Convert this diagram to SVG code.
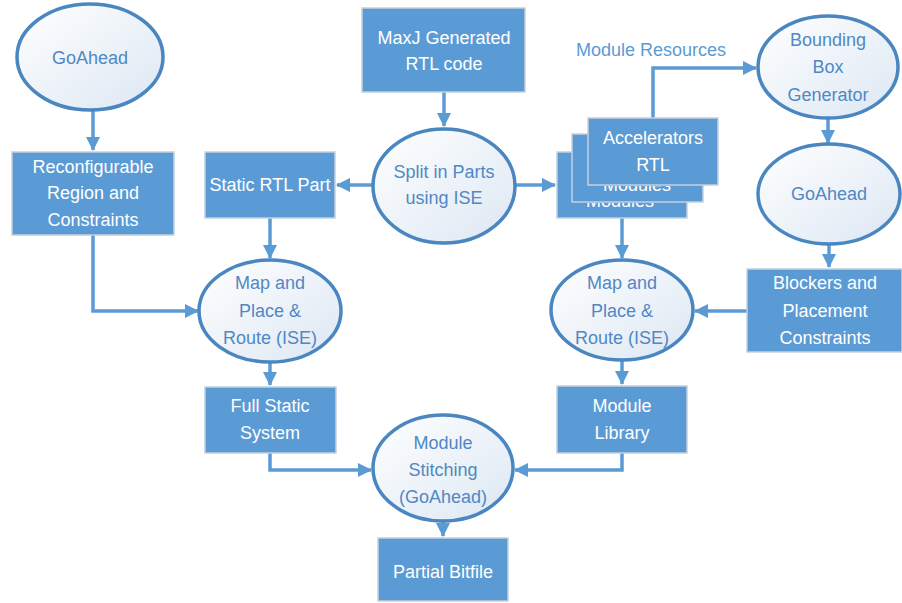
<svg xmlns="http://www.w3.org/2000/svg" width="902" height="603" viewBox="0 0 902 603">
<style>
.box{fill:#5b9bd5;stroke:#c5d0dc;stroke-width:1.5}
.ell{fill:url(#eg);stroke:#4a86c0;stroke-width:3.5}
.bt{font-family:"Liberation Sans",Arial,sans-serif;font-size:18px;fill:#ffffff;text-anchor:middle}
.et{font-family:"Liberation Sans",Arial,sans-serif;font-size:18px;fill:#5088c4;text-anchor:middle}
.lbl{font-family:"Liberation Sans",Arial,sans-serif;font-size:18px;fill:#5b9bd5;text-anchor:middle}
.con{fill:none;stroke:#5b9bd5;stroke-width:3.5;marker-end:url(#ah)}
</style>
<defs>
<linearGradient id="eg" x1="0" y1="0" x2="1" y2="1">
<stop offset="0" stop-color="#ffffff"/>
<stop offset="1" stop-color="#dce7f3"/>
</linearGradient>
<marker id="ah" markerUnits="userSpaceOnUse" markerWidth="14" markerHeight="14" viewBox="0 0 14 14" refX="13" refY="7" orient="auto">
<path d="M0,0 L14,7 L0,14 Z" fill="#5b9bd5"/>
</marker>
<clipPath id="cm"><rect x="572" y="186" width="131" height="16"/></clipPath>
<clipPath id="cb"><rect x="557" y="203" width="130" height="15"/></clipPath>
</defs>
<g id="connectors">
<path class="con" d="M93,110 V150"/>
<path class="con" d="M444,92 V126"/>
<path class="con" d="M373,185 H337"/>
<path class="con" d="M515,185 H555"/>
<path class="con" d="M653,118 V68 H756"/>
<path class="con" d="M828,118 V143"/>
<path class="con" d="M829,244 V267"/>
<path class="con" d="M747,311 H695"/>
<path class="con" d="M622,218 V258"/>
<path class="con" d="M270,218 V258"/>
<path class="con" d="M93,235 V311 H198"/>
<path class="con" d="M270,362 V385"/>
<path class="con" d="M622,360 V384"/>
<path class="con" d="M270,453 V470 H371"/>
<path class="con" d="M622,453 V470 H515"/>
<path class="con" d="M443,521 V536"/>
</g>
<g id="goahead1"><ellipse class="ell" cx="90" cy="57" rx="73" ry="53"/><text class="et" x="90" y="64">GoAhead</text></g>
<g id="reconfig"><rect class="box" x="12" y="152" width="162" height="83"/><text class="bt" x="93" y="173">Reconfigurable</text><text class="bt" x="93" y="199">Region and</text><text class="bt" x="93" y="226">Constraints</text></g>
<g id="maxj"><rect class="box" x="362" y="8" width="163" height="84"/><text class="bt" x="444" y="44">MaxJ Generated</text><text class="bt" x="444" y="70">RTL code</text></g>
<g id="split"><ellipse class="ell" cx="444" cy="186" rx="71" ry="57"/><text class="et" x="444" y="178">Split in Parts</text><text class="et" x="444" y="204">using ISE</text></g>
<g id="static"><rect class="box" x="205" y="152" width="130" height="66"/><text class="bt" x="270" y="191">Static RTL Part</text></g>
<g id="modules">
<rect class="box" x="557" y="152" width="130" height="66"/><text class="bt" x="620" y="207" clip-path="url(#cb)">Modules</text>
<rect class="box" x="572" y="134" width="131" height="68"/><text class="bt" x="637" y="191" clip-path="url(#cm)">Modules</text>
<rect class="box" x="588" y="118" width="130" height="67"/><text class="bt" x="653" y="144">Accelerators</text><text class="bt" x="653" y="171">RTL</text>
</g>
<text class="lbl" x="651" y="56">Module Resources</text>
<g id="bbox"><ellipse class="ell" cx="828" cy="67" rx="70" ry="51"/><text class="et" x="828" y="46">Bounding</text><text class="et" x="828" y="73">Box</text><text class="et" x="828" y="101">Generator</text></g>
<g id="goahead2"><ellipse class="ell" cx="829" cy="194" rx="71" ry="50"/><text class="et" x="829" y="200">GoAhead</text></g>
<g id="blockers"><rect class="box" x="747" y="269" width="155" height="83"/><text class="bt" x="825" y="289">Blockers and</text><text class="bt" x="825" y="317">Placement</text><text class="bt" x="825" y="344">Constraints</text></g>
<g id="map1"><ellipse class="ell" cx="270" cy="311" rx="71" ry="51"/><text class="et" x="270" y="289">Map and</text><text class="et" x="270" y="317">Place &amp;</text><text class="et" x="270" y="344">Route (ISE)</text></g>
<g id="map2"><ellipse class="ell" cx="622" cy="310" rx="71" ry="50"/><text class="et" x="622" y="289">Map and</text><text class="et" x="622" y="317">Place &amp;</text><text class="et" x="622" y="344">Route (ISE)</text></g>
<g id="fullstatic"><rect class="box" x="205" y="387" width="131" height="66"/><text class="bt" x="270" y="412">Full Static</text><text class="bt" x="270" y="439">System</text></g>
<g id="modlib"><rect class="box" x="557" y="386" width="130" height="67"/><text class="bt" x="622" y="412">Module</text><text class="bt" x="622" y="439">Library</text></g>
<g id="stitch"><ellipse class="ell" cx="443" cy="468" rx="70" ry="53"/><text class="et" x="443" y="449">Module</text><text class="et" x="443" y="476">Stitching</text><text class="et" x="443" y="503">(GoAhead)</text></g>
<g id="partial"><rect class="box" x="378" y="538" width="130" height="63"/><text class="bt" x="443" y="578">Partial Bitfile</text></g>
</svg>
